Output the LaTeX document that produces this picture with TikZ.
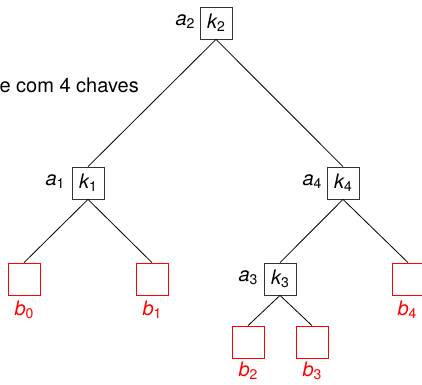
\documentclass[tikz,border=0pt]{standalone}
\usepackage{fontspec}
\setmainfont{TeX Gyre Heros}
\newcommand\lbl[2]{{\itshape #1}\raisebox{-0.3ex}{\fontsize{14}{14}\selectfont #2}}
\begin{document}
\begin{tikzpicture}[x=1pt,y=-1pt,
  font=\fontsize{20}{24}\selectfont,
  inner/.style={draw=black!80,line width=0.8pt,minimum size=32pt,inner sep=0pt},
  leaf/.style={draw=red,line width=0.8pt,minimum size=32pt,inner sep=0pt},
  leaflbl/.style={text=red,inner sep=0pt},
  edge/.style={line width=0.8pt}]
\useasboundingbox (0,0) rectangle (422,384);
\clip (0,0) rectangle (422,384);
\node[anchor=base east,inner sep=0pt] (title) at (139,92) {e com 4 chaves};
% internal nodes
\node[inner] (k2) at (216,23) {\lbl{k}{2}};
\node[inner] (k1) at (88,183) {\lbl{k}{1}};
\node[inner] (k4) at (343,183) {\lbl{k}{4}};
\node[inner] (k3) at (280,279) {\lbl{k}{3}};
\node[inner sep=0pt] (a2) at (185,22) {\lbl{a}{2}};
\node[inner sep=0pt] (a1) at (55,182) {\lbl{a}{1}};
\node[inner sep=0pt] (a4) at (312,182) {\lbl{a}{4}};
\node[inner sep=0pt] (a3) at (248,278) {\lbl{a}{3}};
% leaves
\node[leaf] (b0) at (24,279) {};
\node[leaf] (b1) at (152,279) {};
\node[leaf] (b2) at (248,342) {};
\node[leaf] (b3) at (312,342) {};
\node[leaf] (b4) at (408,279) {};
\node[leaflbl] (l0) at (24,310) {\lbl{b}{0}};
\node[leaflbl] (l1) at (152,310) {\lbl{b}{1}};
\node[leaflbl] (l2) at (248,371) {\lbl{b}{2}};
\node[leaflbl] (l3) at (312,371) {\lbl{b}{3}};
\node[leaflbl] (l4) at (407,310) {\lbl{b}{4}};
% edges
\draw[edge] (k2.south) -- (k1.north);
\draw[edge] (k2.south) -- (k4.north);
\draw[edge] (k1.south) -- (b0.north);
\draw[edge] (k1.south) -- (b1.north);
\draw[edge] (k4.south) -- (k3.north);
\draw[edge] (k4.south) -- (b4.north);
\draw[edge] (k3.south) -- (b2.north);
\draw[edge] (k3.south) -- (b3.north);
\end{tikzpicture}
\end{document}
